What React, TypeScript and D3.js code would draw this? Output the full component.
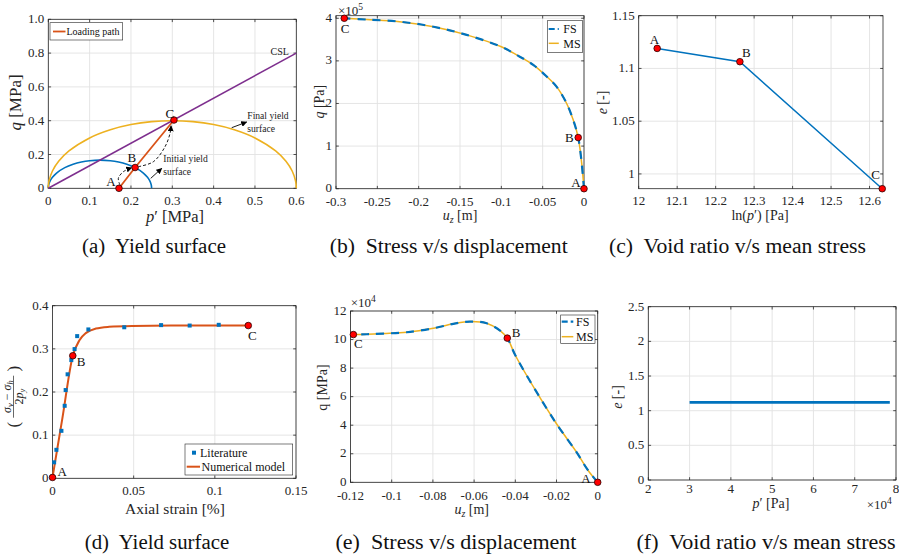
import React from 'react';
import * as d3 from 'd3';

const FONT = "'Liberation Serif', 'Times New Roman', Times, serif";
const INK = '#262626';
const GRID = '#e2e2e2';
const BLUE = '#0072BD';
const ORANGE = '#D95319';
const YELLOW = '#EDB120';
const PURPLE = '#7E2F8E';
const RED = '#FF0000';

// ---------- (a) Yield surface ----------
const cslP = [0, 0.6];
const cslQ = [0, 0.8];
const initYieldP = [0, 0.001, 0.005, 0.01, 0.02, 0.04, 0.06, 0.08, 0.1, 0.125, 0.15, 0.17, 0.19, 0.21, 0.23, 0.24, 0.245, 0.249, 0.25];
const initYieldQ = [0, 0.021, 0.0467, 0.0653, 0.0904, 0.1222, 0.1423, 0.1555, 0.1633, 0.1667, 0.1633, 0.1555, 0.1423, 0.1222, 0.0904, 0.0653, 0.0467, 0.021, 0];
const finalYieldP = [0, 0.0005, 0.002, 0.01, 0.025, 0.05, 0.1, 0.15, 0.2, 0.25, 0.3, 0.35, 0.4, 0.45, 0.5, 0.55, 0.575, 0.59, 0.598, 0.5995, 0.6];
const finalYieldQ = [0, 0.0231, 0.0461, 0.1024, 0.1598, 0.2211, 0.2981, 0.3464, 0.3771, 0.3944, 0.4, 0.3944, 0.3771, 0.3464, 0.2981, 0.2211, 0.1598, 0.1024, 0.0461, 0.0231, 0];
const pathP = [0.171, 0.21, 0.304];
const pathQ = [0, 0.123, 0.404];
const pointNames = ['A', 'B', 'C'];
const aXTicks = [0, 0.1, 0.2, 0.3, 0.4, 0.5, 0.6];
const aXLabels = ['0', '0.1', '0.2', '0.3', '0.4', '0.5', '0.6'];
const aYTicks = [0, 0.2, 0.4, 0.6, 0.8, 1.0];
const aYLabels = ['0', '0.2', '0.4', '0.6', '0.8', '1.0'];

// ---------- (b) Stress vs displacement ----------
const bU = [0, -0.0028, -0.007, -0.013, -0.021, -0.033, -0.045, -0.061, -0.0815, -0.1, -0.142, -0.182, -0.223, -0.263, -0.29];
const bQ = [0, 0.6, 1.2, 1.61, 2.0, 2.39, 2.63, 2.9, 3.14, 3.33, 3.61, 3.8, 3.92, 3.97, 4.0]; // x1e5 Pa
const bMarkIdx = [0, 2, 14];
const bXTicks = [-0.3, -0.25, -0.2, -0.15, -0.1, -0.05, 0];
const bXLabels = ['-0.3', '-0.25', '-0.2', '-0.15', '-0.1', '-0.05', '0'];
const bYTicks = [0, 1, 2, 3, 4];
const bYLabels = ['0', '1', '2', '3', '4'];

// ---------- (c) Void ratio vs mean stress ----------
const cLnP = [12.048, 12.263, 12.633];
const cE = [1.119, 1.1064, 0.986];
const cXTicks = [12, 12.1, 12.2, 12.3, 12.4, 12.5, 12.6];
const cXLabels = ['12', '12.1', '12.2', '12.3', '12.4', '12.5', '12.6'];
const cYTicks = [1, 1.05, 1.1, 1.15];
const cYLabels = ['1', '1.05', '1.1', '1.15'];

// ---------- (d) Stress-strain ----------
const litStrain = [0.001, 0.0024, 0.0055, 0.0075, 0.0081, 0.0093, 0.0116, 0.0136, 0.0152, 0.0221, 0.0442, 0.0669, 0.0845, 0.1024];
const litStress = [0.037, 0.066, 0.11, 0.168, 0.2045, 0.241, 0.274, 0.2994, 0.3295, 0.345, 0.35, 0.355, 0.354, 0.3557];
const modelStrain = [0, 0.006, 0.0125, 0.0166, 0.0207, 0.0267, 0.0348, 0.049, 0.08, 0.1206];
const modelStress = [0.002, 0.137, 0.284, 0.32, 0.337, 0.347, 0.351, 0.353, 0.354, 0.354];
const dMarkIdx = [0, 2, 9];
const dXTicks = [0, 0.05, 0.1, 0.15];
const dXLabels = ['0', '0.05', '0.1', '0.15'];
const dYTicks = [0, 0.1, 0.2, 0.3, 0.4];
const dYLabels = ['0', '0.1', '0.2', '0.3', '0.4'];

// ---------- (e) Stress vs displacement ----------
const eU = [0, -0.005, -0.0102, -0.02, -0.03, -0.04, -0.0439, -0.0474, -0.0539, -0.062, -0.0701, -0.0798, -0.0927, -0.104, -0.112, -0.1186];
const eQ = [0, 0.9, 2.1, 4.1, 6.4, 8.9, 10.1, 10.63, 11.14, 11.26, 11.1, 10.79, 10.51, 10.42, 10.37, 10.35]; // x1e4
const eMarkIdx = [0, 6, 15];
const eXTicks = [-0.12, -0.1, -0.08, -0.06, -0.04, -0.02, 0];
const eXLabels = ['-0.12', '-0.1', '-0.08', '-0.06', '-0.04', '-0.02', '0'];
const eYTicks = [0, 2, 4, 6, 8, 10, 12];
const eYLabels = ['0', '2', '4', '6', '8', '10', '12'];

// ---------- (f) Void ratio vs mean stress ----------
const fP = [3.0, 7.85]; // x1e4 Pa
const fE = [1.12, 1.12];
const fXTicks = [2, 3, 4, 5, 6, 7, 8];
const fXLabels = ['2', '3', '4', '5', '6', '7', '8'];
const fYTicks = [0, 0.5, 1, 1.5, 2, 2.5];
const fYLabels = ['0', '0.5', '1', '1.5', '2', '2.5'];

const captions = [
  '(a)  Yield surface',
  '(b)  Stress v/s displacement',
  '(c)  Void ratio v/s mean stress',
  '(d)  Yield surface',
  '(e)  Stress v/s displacement',
  '(f)  Void ratio v/s mean stress',
];

type S = d3.ScaleLinear<number, number>;

function Frame({ x, y, xt, yt, xl, yl, xOff = 16.5, yOff = 4, fs = 13 }: { x: S; y: S; xt: number[]; yt: number[]; xl: string[]; yl: string[]; xOff?: number; yOff?: number; fs?: number }) {
  const [x0, x1] = x.range();
  const [y0, y1] = y.range();
  const tl = 2.8;
  return (
    <g>
      <rect x={x0} y={y1} width={x1 - x0} height={y0 - y1} fill="#fff" />
      {xt.map((t, i) => (
        <line key={'gx' + i} x1={x(t)} x2={x(t)} y1={y0} y2={y1} stroke={GRID} strokeWidth={0.9} />
      ))}
      {yt.map((t, i) => (
        <line key={'gy' + i} x1={x0} x2={x1} y1={y(t)} y2={y(t)} stroke={GRID} strokeWidth={0.9} />
      ))}
      <rect x={x0} y={y1} width={x1 - x0} height={y0 - y1} fill="none" stroke={INK} strokeWidth={0.8} />
      {xt.map((t, i) => (
        <g key={'tx' + i}>
          <line x1={x(t)} x2={x(t)} y1={y0} y2={y0 - tl} stroke={INK} strokeWidth={0.8} />
          <line x1={x(t)} x2={x(t)} y1={y1} y2={y1 + tl} stroke={INK} strokeWidth={0.8} />
          <text x={x(t)} y={y0 + xOff} textAnchor="middle" fontSize={fs} fill={INK}>{xl[i]}</text>
        </g>
      ))}
      {yt.map((t, i) => (
        <g key={'ty' + i}>
          <line x1={x0} x2={x0 + tl} y1={y(t)} y2={y(t)} stroke={INK} strokeWidth={0.8} />
          <line x1={x1} x2={x1 - tl} y1={y(t)} y2={y(t)} stroke={INK} strokeWidth={0.8} />
          <text x={x0 - 4} y={y(t) + yOff} textAnchor="end" fontSize={fs} fill={INK}>{yl[i]}</text>
        </g>
      ))}
    </g>
  );
}

function Marker({ cx, cy }: { cx: number; cy: number }) {
  return <circle cx={cx} cy={cy} r={3.3} fill={RED} stroke="#2a0000" strokeWidth={0.8} />;
}

function lineOf(xs: number[], ys: number[], x: S, y: S, curve: any = d3.curveLinear) {
  const pts = xs.map((v, i) => [v, ys[i]] as [number, number]);
  return d3.line<[number, number]>().x((d) => x(d[0])).y((d) => y(d[1])).curve(curve)(pts) || '';
}

function Caption({ cx, cy, text, len }: { cx: number; cy: number; text: string; len: number }) {
  return (
    <text x={cx} y={cy} textAnchor="middle" fontSize={20} fill="#111" textLength={len} lengthAdjust="spacingAndGlyphs" style={{ whiteSpace: 'pre' }}>
      {text}
    </text>
  );
}

export default function App() {
  const ax = d3.scaleLinear().domain([0, 0.6]).range([48.3, 296.3]);
  const ay = d3.scaleLinear().domain([0, 1]).range([188.3, 19.3]);
  const bx = d3.scaleLinear().domain([-0.3, 0]).range([336, 584]);
  const by = d3.scaleLinear().domain([0, 4.06]).range([188.7, 15.7]);
  const cx = d3.scaleLinear().domain([12, 12.635]).range([638.7, 883]);
  const cy = d3.scaleLinear().domain([0.986, 1.15]).range([188.7, 15.7]);
  const dx = d3.scaleLinear().domain([0, 0.15]).range([52.5, 296]);
  const dy = d3.scaleLinear().domain([0, 0.4]).range([478.3, 305.7]);
  const ex = d3.scaleLinear().domain([-0.12, 0]).range([350.5, 597.7]);
  const ey = d3.scaleLinear().domain([0, 12]).range([482.3, 311]);
  const fx = d3.scaleLinear().domain([2, 8]).range([648.3, 896]);
  const fy = d3.scaleLinear().domain([0, 2.5]).range([480, 306.7]);

  const smooth = d3.curveCatmullRom.alpha(0.5);

  // annotation arrows (a), in data units
  const arrowAB: [number, number][] = [[0.1735, 0.0195], [0.1694, 0.059], [0.1815, 0.098], [0.2018, 0.122]];
  const arrowBC: [number, number][] = [[0.2178, 0.128], [0.254, 0.157], [0.2824, 0.246], [0.2945, 0.325], [0.297, 0.369]];
  const arrowInit: [number, number][] = [[0.2478, 0.059], [0.2744, 0.118]];
  const arrowFinal: [number, number][] = [[0.4437, 0.3586], [0.48, 0.392]];
  const aLine = (pts: [number, number][]) =>
    d3.line<[number, number]>().x((d) => ax(d[0])).y((d) => ay(d[1])).curve(smooth)(pts) || '';

  // label offsets (baseline) relative to markers
  const aLabelOff = [[-8, -2], [-3.3, -6], [-4, -2.2]];
  const bLabelOff = [[-8, -2.2], [-9, 4.9], [0.7, 14.5]];
  const cLabelOff = [[-2.7, -4.5], [6.4, -4.9], [-6.7, -10.2]];
  const dLabelOff = [[9.6, -1.1], [8.4, 9.8], [4, 14.5]];
  const eLabelOff = [[-11.7, 0.5], [8.7, -0.9], [4.9, 13.3]];

  return (
    <svg width={899} height={560} style={{ position: 'absolute', left: 0, top: 0, background: '#fff', fontFamily: FONT }}>
      <style>{`text { font-family: ${FONT}; }`}</style>
      <defs>
        <marker id="ah" viewBox="0 0 10 10" refX="9" refY="5" markerWidth="6" markerHeight="6" orient="auto" markerUnits="userSpaceOnUse">
          <path d="M0,0 L10,5 L0,10 z" fill="#000" />
        </marker>
      </defs>
      <rect x={0} y={0} width={899} height={560} fill="#fff" />

      {/* ================= (a) ================= */}
      <Frame x={ax} y={ay} xt={aXTicks} yt={aYTicks} xl={aXLabels} yl={aYLabels} xOff={17} />
      <path d={lineOf(initYieldP, initYieldQ, ax, ay, smooth)} fill="none" stroke={BLUE} strokeWidth={1.6} />
      <path d={lineOf(finalYieldP, finalYieldQ, ax, ay, smooth)} fill="none" stroke={YELLOW} strokeWidth={1.6} />
      <path d={lineOf(cslP, cslQ, ax, ay)} fill="none" stroke={PURPLE} strokeWidth={1.6} />
      <path d={lineOf(pathP, pathQ, ax, ay)} fill="none" stroke={ORANGE} strokeWidth={1.8} />
      <path d={aLine(arrowAB)} fill="none" stroke="#000" strokeWidth={0.9} strokeDasharray="3,2" markerEnd="url(#ah)" />
      <path d={aLine(arrowBC)} fill="none" stroke="#000" strokeWidth={0.9} strokeDasharray="3,2" markerEnd="url(#ah)" />
      <path d={aLine(arrowInit)} fill="none" stroke="#000" strokeWidth={0.9} markerEnd="url(#ah)" />
      <path d={aLine(arrowFinal)} fill="none" stroke="#000" strokeWidth={0.9} markerEnd="url(#ah)" />
      {pathP.map((p, i) => (
        <g key={'am' + i}>
          <Marker cx={ax(p)} cy={ay(pathQ[i])} />
          <text x={ax(p) + aLabelOff[i][0]} y={ay(pathQ[i]) + aLabelOff[i][1]} textAnchor="middle" fontSize={13} fill="#111">{pointNames[i]}</text>
        </g>
      ))}
      <text x={163.3} y={161.6} fontSize={9.6} fill="#222">Initial yield</text>
      <text x={163.3} y={175} fontSize={9.6} fill="#222">surface</text>
      <text x={247.3} y={119.3} fontSize={9.6} fill="#222">Final yield</text>
      <text x={247.3} y={131.6} fontSize={9.6} fill="#222">surface</text>
      <text x={270.5} y={55} fontSize={10} fill="#222">CSL</text>
      <rect x={50} y={22.7} width={72.7} height={17.3} fill="#fff" stroke={INK} strokeWidth={0.6} />
      <line x1={53} x2={65.5} y1={31.5} y2={31.5} stroke={ORANGE} strokeWidth={1.8} />
      <text x={66.5} y={35} fontSize={10} fill="#111">Loading path</text>
      <text transform="translate(21,102.5) rotate(-90)" textAnchor="middle" fontSize={17} fill={INK}>
        <tspan fontStyle="italic">q</tspan> [MPa]
      </text>
      <text x={175} y={222} textAnchor="middle" fontSize={16.5} fill={INK}>
        <tspan fontStyle="italic">p</tspan>′ [MPa]
      </text>

      {/* ================= (b) ================= */}
      <Frame x={bx} y={by} xt={bXTicks} yt={bYTicks} xl={bXLabels} yl={bYLabels} xOff={17.2} yOff={3.6} />
      <path d={lineOf(bU, bQ, bx, by, smooth)} fill="none" stroke={YELLOW} strokeWidth={1.5} />
      <path d={lineOf(bU, bQ, bx, by, smooth)} fill="none" stroke={BLUE} strokeWidth={2.2} strokeDasharray="8,7" />
      {bMarkIdx.map((k, i) => (
        <g key={'bm' + i}>
          <Marker cx={bx(bU[k])} cy={by(bQ[k])} />
          <text x={bx(bU[k]) + bLabelOff[i][0]} y={by(bQ[k]) + bLabelOff[i][1]} textAnchor="middle" fontSize={13} fill="#111">{pointNames[i]}</text>
        </g>
      ))}
      <text x={338} y={15} fontSize={13} fill={INK}>×10<tspan fontSize={9.5} dy={-5}>5</tspan></text>
      <rect x={547.3} y={20.7} width={35.4} height={31.6} fill="#fff" stroke={INK} strokeWidth={0.6} />
      <line x1={548.7} x2={558.8} y1={29} y2={29} stroke={BLUE} strokeWidth={2.2} strokeDasharray="6,3" />
      <line x1={548.7} x2={558.8} y1={43.3} y2={43.3} stroke={YELLOW} strokeWidth={1.5} />
      <text x={563.3} y={33.2} fontSize={12} fill="#111">FS</text>
      <text x={563.3} y={47.5} fontSize={12} fill="#111">MS</text>
      <text transform="translate(324,101.7) rotate(-90)" textAnchor="middle" fontSize={14} fill={INK}>
        <tspan fontStyle="italic">q</tspan> [Pa]
      </text>
      <text x={460} y={220} textAnchor="middle" fontSize={14} fill={INK}>
        <tspan fontStyle="italic">u</tspan><tspan fontStyle="italic" fontSize={10} dy={3}>z</tspan><tspan dy={-3}> [m]</tspan>
      </text>

      {/* ================= (c) ================= */}
      <Frame x={cx} y={cy} xt={cXTicks} yt={cYTicks} xl={cXLabels} yl={cYLabels} xOff={16.5} />
      <path d={lineOf(cLnP, cE, cx, cy)} fill="none" stroke={BLUE} strokeWidth={1.5} />
      {cLnP.map((v, i) => (
        <g key={'cm' + i}>
          <Marker cx={cx(v)} cy={cy(cE[i])} />
          <text x={cx(v) + cLabelOff[i][0]} y={cy(cE[i]) + cLabelOff[i][1]} textAnchor="middle" fontSize={13} fill="#111">{pointNames[i]}</text>
        </g>
      ))}
      <text transform="translate(607,102.5) rotate(-90)" textAnchor="middle" fontSize={14} fill={INK}>
        <tspan fontStyle="italic">e</tspan> [-]
      </text>
      <text x={760} y={219.5} textAnchor="middle" fontSize={14} fill={INK}>
        ln(<tspan fontStyle="italic">p</tspan>′) [Pa]
      </text>

      {/* ================= (d) ================= */}
      <Frame x={dx} y={dy} xt={dXTicks} yt={dYTicks} xl={dXLabels} yl={dYLabels} xOff={16.5} />
      <path d={lineOf(modelStrain, modelStress, dx, dy, d3.curveMonotoneX)} fill="none" stroke={ORANGE} strokeWidth={2} />
      {litStrain.map((v, i) => (
        <rect key={'lit' + i} x={dx(v) - 2} y={dy(litStress[i]) - 2} width={4} height={4} fill={BLUE} />
      ))}
      {dMarkIdx.map((k, i) => (
        <g key={'dm' + i}>
          <Marker cx={dx(modelStrain[k])} cy={dy(modelStress[k])} />
          <text x={dx(modelStrain[k]) + dLabelOff[i][0]} y={dy(modelStress[k]) + dLabelOff[i][1]} textAnchor="middle" fontSize={13} fill="#111">{pointNames[i]}</text>
        </g>
      ))}
      <rect x={185} y={444} width={107.7} height={31} fill="#fff" stroke={INK} strokeWidth={0.6} />
      <rect x={192} y={450.7} width={4} height={4} fill={BLUE} />
      <line x1={186.7} x2={200} y1={466.7} y2={466.7} stroke={ORANGE} strokeWidth={2} />
      <text x={200} y={456.8} fontSize={12} fill="#111">Literature</text>
      <text x={201.5} y={470.8} fontSize={12} fill="#111">Numerical model</text>
      <g transform="translate(13.5,396.7) rotate(-90)" fill={INK}>
        <text x={-28} y={5} textAnchor="middle" fontSize={17}>(</text>
        <text x={28} y={5} textAnchor="middle" fontSize={17}>)</text>
        <text x={0} y={-2.5} textAnchor="middle" fontSize={12}>
          <tspan fontStyle="italic">σ</tspan><tspan fontStyle="italic" fontSize={8.5} dy={1.5}>v</tspan><tspan dy={-1.5}> − </tspan><tspan fontStyle="italic">σ</tspan><tspan fontStyle="italic" fontSize={8.5} dy={1.5}>h</tspan>
        </text>
        <line x1={-21} x2={21} y1={0} y2={0} stroke={INK} strokeWidth={0.7} />
        <text x={0} y={9.5} textAnchor="middle" fontSize={12}>
          2<tspan fontStyle="italic">p</tspan><tspan fontStyle="italic" fontSize={8.5} dy={1.5}>y</tspan>
        </text>
      </g>
      <text x={175} y={514} textAnchor="middle" fontSize={15.5} fill={INK}>Axial strain [%]</text>

      {/* ================= (e) ================= */}
      <Frame x={ex} y={ey} xt={eXTicks} yt={eYTicks} xl={eXLabels} yl={eYLabels} xOff={17.2} yOff={3.6} />
      <path d={lineOf(eU, eQ, ex, ey, smooth)} fill="none" stroke={YELLOW} strokeWidth={1.5} />
      <path d={lineOf(eU, eQ, ex, ey, smooth)} fill="none" stroke={BLUE} strokeWidth={2.2} strokeDasharray="8,7" />
      {eMarkIdx.map((k, i) => (
        <g key={'em' + i}>
          <Marker cx={ex(eU[k])} cy={ey(eQ[k])} />
          <text x={ex(eU[k]) + eLabelOff[i][0]} y={ey(eQ[k]) + eLabelOff[i][1]} textAnchor="middle" fontSize={13} fill="#111">{pointNames[i]}</text>
        </g>
      ))}
      <text x={350.7} y={306.5} fontSize={13} fill={INK}>×10<tspan fontSize={9.5} dy={-5}>4</tspan></text>
      <rect x={560.7} y={315} width={34.3} height={28.3} fill="#fff" stroke={INK} strokeWidth={0.6} />
      <line x1={561.7} x2={573.3} y1={321.7} y2={321.7} stroke={BLUE} strokeWidth={2.2} strokeDasharray="6,3" />
      <line x1={561.7} x2={573.3} y1={336.7} y2={336.7} stroke={YELLOW} strokeWidth={1.5} />
      <text x={576} y={325.9} fontSize={12} fill="#111">FS</text>
      <text x={576} y={340.9} fontSize={12} fill="#111">MS</text>
      <text transform="translate(327,387.5) rotate(-90)" textAnchor="middle" fontSize={14} fill={INK}>q [MPa]</text>
      <text x={471.7} y={514} textAnchor="middle" fontSize={14} fill={INK}>
        <tspan fontStyle="italic">u</tspan><tspan fontStyle="italic" fontSize={10} dy={3}>z</tspan><tspan dy={-3}> [m]</tspan>
      </text>

      {/* ================= (f) ================= */}
      <Frame x={fx} y={fy} xt={fXTicks} yt={fYTicks} xl={fXLabels} yl={fYLabels} xOff={13} />
      <path d={lineOf(fP, fE, fx, fy)} fill="none" stroke={BLUE} strokeWidth={2.6} />
      <text x={866.7} y={509} fontSize={13} fill={INK}>×10<tspan fontSize={9.5} dy={-5}>4</tspan></text>
      <text transform="translate(622,397) rotate(-90)" textAnchor="middle" fontSize={14} fill={INK}>
        <tspan fontStyle="italic">e</tspan> [-]
      </text>
      <text x={771} y={507.5} textAnchor="middle" fontSize={14} fill={INK}>
        <tspan fontStyle="italic">p</tspan>′ [Pa]
      </text>

      {/* ================= captions ================= */}
      <Caption cx={154} cy={253} text={captions[0]} len={144} />
      <Caption cx={448.7} cy={253} text={captions[1]} len={238} />
      <Caption cx={737.5} cy={253} text={captions[2]} len={257} />
      <Caption cx={157} cy={549} text={captions[3]} len={144.5} />
      <Caption cx={456} cy={549} text={captions[4]} len={241} />
      <Caption cx={766} cy={549} text={captions[5]} len={259} />
    </svg>
  );
}
